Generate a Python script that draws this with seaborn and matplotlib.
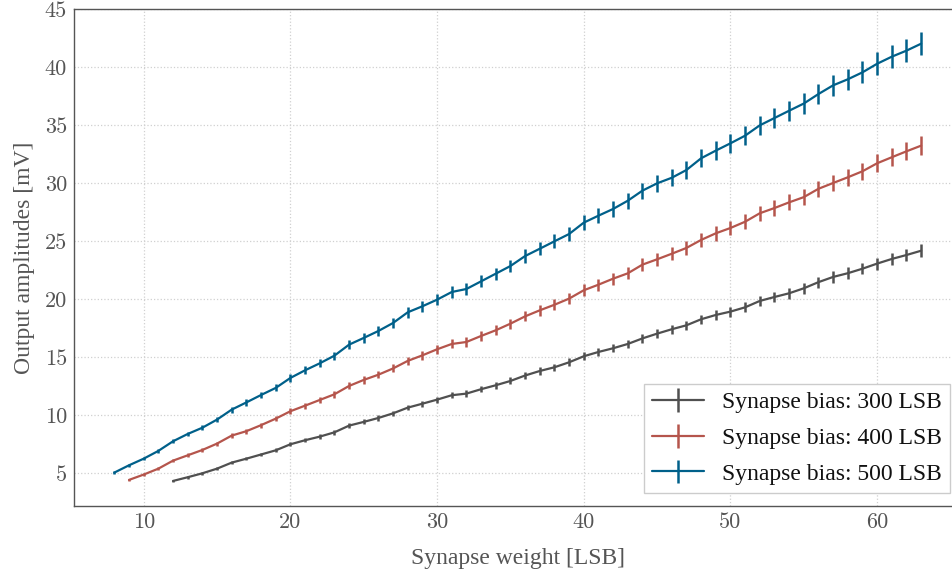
import matplotlib
matplotlib.use("Agg")
import matplotlib.pyplot as plt
import seaborn as sns
import pandas as pd

# ---- data ----
weights_500 = list(range(8, 64))
amp_500 = [5.03, 5.66, 6.23, 6.9, 7.73, 8.36, 8.9, 9.6, 10.46, 11.08, 11.72, 12.33, 13.19, 13.85,
           14.45, 15.11, 16.06, 16.64, 17.24, 17.93, 18.85, 19.37, 19.94, 20.6, 20.86, 21.52, 22.18,
           22.84, 23.7, 24.33, 24.97, 25.6, 26.58, 27.18, 27.76, 28.47, 29.34, 29.97, 30.45, 31.12,
           32.13, 32.79, 33.42, 34.08, 34.97, 35.6, 36.23, 36.85, 37.67, 38.42, 38.94, 39.54, 40.28,
           40.89, 41.41, 42.01]
err_500 = [0.12, 0.14, 0.15, 0.17, 0.19, 0.2, 0.21, 0.23, 0.25, 0.27, 0.28, 0.3, 0.32, 0.33, 0.35,
           0.36, 0.38, 0.4, 0.41, 0.43, 0.45, 0.46, 0.48, 0.49, 0.5, 0.52, 0.53, 0.55, 0.57, 0.58,
           0.6, 0.61, 0.64, 0.65, 0.67, 0.68, 0.7, 0.72, 0.73, 0.75, 0.77, 0.79, 0.8, 0.82, 0.84,
           0.85, 0.87, 0.88, 0.9, 0.92, 0.93, 0.95, 0.97, 0.98, 0.99, 1.01]

weights_400 = list(range(9, 64))
amp_400 = [4.4, 4.86, 5.37, 6.06, 6.52, 6.98, 7.53, 8.22, 8.6, 9.12, 9.68, 10.32, 10.8, 11.29,
           11.78, 12.5, 13.02, 13.47, 14.01, 14.66, 15.14, 15.66, 16.12, 16.29, 16.81, 17.3, 17.87,
           18.5, 19.02, 19.5, 20.03, 20.75, 21.23, 21.75, 22.21, 22.96, 23.42, 23.9, 24.4, 25.09,
           25.66, 26.12, 26.66, 27.39, 27.84, 28.33, 28.78, 29.5, 30.0, 30.49, 31.01, 31.7, 32.22,
           32.73, 33.22]
err_400 = [0.11, 0.12, 0.13, 0.15, 0.16, 0.17, 0.18, 0.2, 0.21, 0.22, 0.23, 0.25, 0.26, 0.27, 0.28,
           0.3, 0.31, 0.32, 0.34, 0.35, 0.36, 0.38, 0.39, 0.39, 0.4, 0.42, 0.43, 0.44, 0.46, 0.47,
           0.48, 0.5, 0.51, 0.52, 0.53, 0.55, 0.56, 0.57, 0.59, 0.6, 0.62, 0.63, 0.64, 0.66, 0.67,
           0.68, 0.69, 0.71, 0.72, 0.73, 0.74, 0.76, 0.77, 0.79, 0.8]

weights_300 = list(range(12, 64))
amp_300 = [4.31, 4.63, 4.97, 5.37, 5.89, 6.23, 6.59, 6.95, 7.47, 7.82, 8.13, 8.5, 9.08, 9.4, 9.74,
           10.14, 10.63, 10.97, 11.32, 11.7, 11.84, 12.22, 12.56, 12.93, 13.4, 13.79, 14.11, 14.54,
           15.06, 15.43, 15.75, 16.12, 16.6, 17.01, 17.39, 17.73, 18.25, 18.62, 18.91, 19.28, 19.83,
           20.17, 20.49, 20.92, 21.45, 21.9, 22.22, 22.61, 23.05, 23.45, 23.79, 24.16]
err_300 = [0.1, 0.11, 0.11, 0.12, 0.14, 0.14, 0.15, 0.16, 0.17, 0.18, 0.19, 0.2, 0.21, 0.22, 0.22,
           0.23, 0.24, 0.25, 0.26, 0.27, 0.27, 0.28, 0.29, 0.3, 0.31, 0.32, 0.32, 0.33, 0.35, 0.35,
           0.36, 0.37, 0.38, 0.39, 0.39, 0.4, 0.41, 0.42, 0.43, 0.43, 0.44, 0.46, 0.46, 0.47, 0.48,
           0.49, 0.5, 0.5, 0.51, 0.52, 0.53, 0.54]

labels = ["Synapse bias: 300 LSB", "Synapse bias: 400 LSB", "Synapse bias: 500 LSB"]
colors = ["#505050", "#b5554c", "#00608a"]
x_ticks = [10, 20, 30, 40, 50, 60]
y_ticks = [5, 10, 15, 20, 25, 30, 35, 40, 45]

series = [(weights_300, amp_300, err_300), (weights_400, amp_400, err_400),
          (weights_500, amp_500, err_500)]

# ---- style ----
sns.set_theme(style="whitegrid")
plt.rcParams["font.family"] = ["Liberation Serif", "DejaVu Serif"]

fig = plt.figure(figsize=(9.52, 5.76), dpi=100)
ax = fig.add_axes([74 / 952, 70 / 576, 887.5 / 952, 497 / 576])

frames = []
for (w, a, e), lab in zip(series, labels):
    frames.append(pd.DataFrame({"weight": w, "amp": a, "err": e, "bias": lab}))
df = pd.concat(frames, ignore_index=True)

sns.lineplot(data=df, x="weight", y="amp", hue="bias", palette=colors, hue_order=labels,
             linewidth=1.6, ax=ax, legend=False, errorbar=None, estimator=None)

handles = []
for line, (w, a, e), col in zip(ax.lines, series, colors):
    eb = ax.errorbar(w, a, yerr=e, fmt="none", ecolor=col, elinewidth=1.8, capsize=0)
    handles.append((line, eb))

ax.set_xlim(5.25, 65.75)
ax.set_ylim(2.15, 45)
ax.set_xticks(x_ticks)
ax.set_yticks(y_ticks)
ax.set_xticklabels([str(t) for t in x_ticks], fontfamily="cmr10", fontsize=16, color="#555555")
ax.set_yticklabels([str(t) for t in y_ticks], fontfamily="cmr10", fontsize=16, color="#555555")
ax.tick_params(axis="both", length=0, pad=5)

ax.set_xlabel("Synapse weight [LSB]", fontsize=17, color="#555555", labelpad=11)
ax.set_ylabel("Output amplitudes [mV]", fontsize=17, color="#555555", labelpad=7)

ax.grid(True, color="#d0d0d0", linestyle=":", linewidth=0.9)
for side in ["left", "bottom", "top"]:
    ax.spines[side].set_visible(True)
    ax.spines[side].set_color("#555555")
    ax.spines[side].set_linewidth(1.0)
ax.spines["right"].set_visible(False)

leg = fig.legend(handles, labels, loc="lower right", bbox_to_anchor=(950 / 952, 83 / 576),
                 fontsize=17, frameon=True, fancybox=False, framealpha=1.0,
                 edgecolor="#cccccc", borderpad=0.35, labelspacing=0.6, handlelength=2.2,
                 handletextpad=0.75, borderaxespad=0.0)
for t in leg.get_texts():
    t.set_color("#111111")

fig.savefig("out.png", dpi=100)
